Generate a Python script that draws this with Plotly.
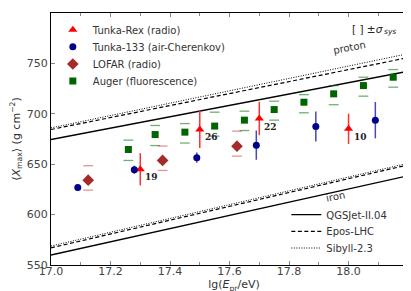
import plotly.graph_objects as go

# ---------------- data ----------------
rex_lgE = [17.30, 17.50, 17.70, 18.00]
rex_xmax = [645.0, 684.5, 695.3, 685.1]
rex_err = [16.0, 18.5, 16.5, 15.0]
rex_events = [19, 26, 22, 10]

t133_lgE = [17.09, 17.28, 17.49, 17.69, 17.89, 18.09]
t133_xmax = [626.8, 644.5, 656.5, 668.9, 687.4, 693.7]
t133_err = [2.0, 4.0, 5.0, 14.5, 15.0, 18.0]

lofar_lgE = [17.125, 17.375, 17.625]
lofar_xmax = [634.2, 653.7, 667.9]
lofar_err = [2.5, 2.5, 2.5]
lofar_sys_hi = [648.5, 668.0, 682.8]
lofar_sys_lo = [624.3, 643.8, 658.0]

auger_lgE = [17.26, 17.35, 17.45, 17.55, 17.65, 17.75, 17.85, 17.95, 18.05, 18.15]
auger_xmax = [664.6, 679.4, 681.8, 687.8, 693.7, 704.2, 711.5, 719.8, 728.0, 736.3]
auger_sys_hi = [673.9, 688.4, 690.3, 701.6, 702.6, 712.5, 719.0, 728.0, 736.3, 743.9]
auger_sys_lo = [653.7, 668.5, 671.0, 677.8, 683.4, 693.7, 701.0, 709.0, 717.5, 726.4]

model_lgE = [17.0, 18.25]
qgs_p = [674.5, 745.0]
epos_p = [684.4, 758.7]
sib_p = [686.0, 762.7]
qgs_fe = [559.9, 641.8]
epos_fe = [567.0, 652.8]
sib_fe = [568.8, 654.4]

x_ticks = [17.0, 17.2, 17.4, 17.6, 17.8, 18.0, 18.2]
y_ticks = [550, 600, 650, 700, 750, 800]

FONT = "DejaVu Sans"
LEFT, PW = 43.0, 366.0
TOP, PH = 5.0, 252.0  # plot top (px) and plot height (px)


def py(pix):
    return 1 - (pix - TOP) / PH


def px(pix):
    return (pix - LEFT) / PW


fig = go.Figure()

# ---------------- model lines ----------------
models = [
    ("QGSJet-II.04", qgs_p, qgs_fe, "solid", 1.3, "legend2", 206.7),
    ("Epos-LHC", epos_p, epos_fe, "4px,2.5px", 1.2, "legend6", 223.3),
    ("Sibyll-2.3", sib_p, sib_fe, "1px,1.5px", 1.0, "legend7", 240.0),
]
for name, p, fe, dash, w, lg, _ in models:
    fig.add_trace(go.Scatter(x=model_lgE, y=p, mode="lines", name=name,
                             line=dict(color="black", dash=dash, width=w),
                             legend=lg, showlegend=True))
    fig.add_trace(go.Scatter(x=model_lgE, y=fe, mode="lines", name=name,
                             line=dict(color="black", dash=dash, width=w),
                             legend=lg, showlegend=False))

# ---------------- systematic brackets ----------------
def sys_marks(x, ys, color):
    fig.add_trace(go.Scatter(x=x, y=ys, mode="markers", showlegend=False,
                             marker=dict(symbol="line-ew", size=7,
                                         line=dict(color=color, width=1.3)),
                             hoverinfo="skip"))

sys_marks(auger_lgE, auger_sys_hi, "rgba(0,110,0,0.55)")
sys_marks(auger_lgE, auger_sys_lo, "rgba(0,110,0,0.55)")
sys_marks(lofar_lgE, lofar_sys_hi, "rgba(200,60,60,0.55)")
sys_marks(lofar_lgE, lofar_sys_lo, "rgba(200,60,60,0.55)")

# ---------------- data series ----------------
fig.add_trace(go.Scatter(x=rex_lgE, y=rex_xmax, mode="markers", name="Tunka-Rex (radio)",
                         marker=dict(symbol="triangle-up", size=8, color="#ff0000"),
                         error_y=dict(type="data", array=rex_err, width=0,
                                      color="#ff3030", thickness=1.5),
                         legend="legend"))
fig.add_trace(go.Scatter(x=t133_lgE, y=t133_xmax, mode="markers", name="Tunka-133 (air-Cherenkov)",
                         marker=dict(symbol="circle", size=7, color="#00008b"),
                         error_y=dict(type="data", array=t133_err, width=0,
                                      color="#4848b0", thickness=1.5),
                         legend="legend3"))
fig.add_trace(go.Scatter(x=lofar_lgE, y=lofar_xmax, mode="markers", name="LOFAR (radio)",
                         marker=dict(symbol="diamond", size=9, color="#a52a2a"),
                         error_y=dict(type="data", array=lofar_err, width=0,
                                      color="#a52a2a", thickness=1.2),
                         legend="legend4"))
fig.add_trace(go.Scatter(x=auger_lgE, y=auger_xmax, mode="markers", name="Auger (fluorescence)",
                         marker=dict(symbol="square", size=7, color="#006400"),
                         legend="legend5"))

# ---------------- annotations ----------------
anns = []
for x, y, n in zip(rex_lgE, rex_xmax, rex_events):
    anns.append(dict(x=x, y=y, xref="x", yref="y", text="<b>%d</b>" % n,
                     showarrow=False, xanchor="left", yanchor="middle",
                     xshift=3, yshift=-8,
                     font=dict(family="DejaVu Serif", size=9, color="#222")))
anns.append(dict(x=px(377), y=py(20.5), xref="paper", yref="paper", showarrow=False,
                 xanchor="right", yanchor="middle",
                 text="[ ] ±<i>σ</i>",
                 font=dict(family=FONT, size=10.5, color="#222")))
anns.append(dict(x=px(373.5), y=py(24), xref="paper", yref="paper", showarrow=False,
                 xanchor="left", yanchor="middle",
                 text="<i>sys</i>",
                 font=dict(family=FONT, size=7.5, color="#222")))
anns.append(dict(x=18.003, y=766, xref="x", yref="y", showarrow=False,
                 text="proton", textangle=-11,
                 font=dict(family=FONT, size=10, color="#333")))
anns.append(dict(x=17.956, y=618, xref="x", yref="y", showarrow=False,
                 text="iron", textangle=-11,
                 font=dict(family=FONT, size=10, color="#333")))

leg_font = dict(family=FONT, size=10, color="#333")
layout_legends = {}
data_leg = [("legend", 21.7), ("legend3", 38.7), ("legend4", 56.0), ("legend5", 73.0)]
for lg, ypix in data_leg:
    layout_legends[lg] = dict(x=0.005, y=py(ypix), xanchor="left", yanchor="middle",
                              bgcolor="rgba(0,0,0,0)", font=leg_font)
for _, _, _, _, _, lg, ypix in models:
    layout_legends[lg] = dict(x=0.643, y=py(ypix), xanchor="left", yanchor="middle",
                              bgcolor="rgba(0,0,0,0)", font=leg_font, itemwidth=30)

fig.update_layout(
    width=411, height=291, autosize=False,
    margin=dict(l=43, r=2, t=5, b=34),
    paper_bgcolor="white", plot_bgcolor="white",
    font=dict(family=FONT, size=11, color="#333"),
    annotations=anns,
    **layout_legends,
)
fig.update_xaxes(range=[17.0, 18.23], tickvals=x_ticks,
                 ticktext=["%.1f" % v for v in x_ticks],
                 ticks="inside", ticklen=4, tickcolor="#888", mirror="allticks",
                 showline=True, linecolor="black", linewidth=1,
                 showgrid=False, zeroline=False, ticklabelstandoff=-4,
                 minor=dict(dtick=0.1, ticks="inside", ticklen=3, tickcolor="#888"),
                 title=dict(text="lg(<i>E</i><sub>pr</sub>/eV)", standoff=0,
                            font=dict(family=FONT, size=11, color="#333")),
                 tickfont=dict(family=FONT, size=11, color="#444"))
fig.update_yaxes(range=[550, 800], tickvals=y_ticks,
                 ticks="inside", ticklen=4, tickcolor="#888", mirror="allticks",
                 showline=True, linecolor="black", linewidth=1,
                 showgrid=False, zeroline=False,
                 title=dict(text="⟨<i>X</i><sub>max</sub>⟩ (g cm<sup>−2</sup>)", standoff=4,
                            font=dict(family=FONT, size=11, color="#333")),
                 tickfont=dict(family=FONT, size=11, color="#444"))

fig.write_html("out.html")
